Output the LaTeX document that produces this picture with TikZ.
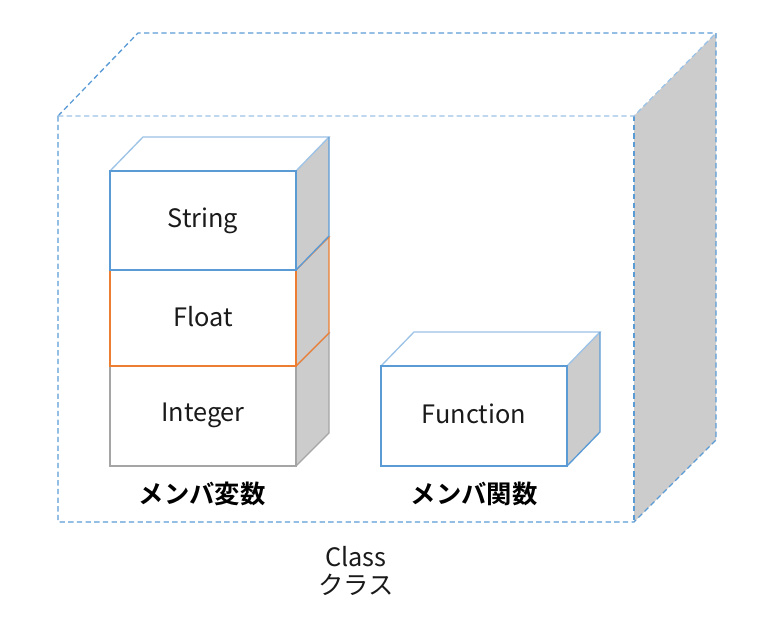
\documentclass[tikz,border=0pt]{standalone}
\usepackage{fontspec}
\setmainfont{Noto Sans CJK JP}
\newfontfamily\jpb{Noto Sans CJK JP Bold}
\definecolor{cblue}{HTML}{5B9BD5}
\definecolor{clblue}{HTML}{9DC3E6}
\definecolor{corange}{HTML}{ED7D31}
\definecolor{cgray}{HTML}{A5A5A5}
\definecolor{cside}{HTML}{CCCCCC}
\definecolor{ctext}{HTML}{1A1A1A}
\tikzset{
  edge/.style={line width=1pt, line join=miter},
  lbl/.style={font=\fontsize{19}{22}\selectfont, text=ctext, inner sep=0pt},
  blbl/.style={font=\jpb\fontsize{19}{22}\selectfont, text=black, inner sep=0pt},
}
% cube: #1 = x0, #2 = y0 (front top-left), #3 = x1, #4 = y1 (front bottom-right), #5 = dx, #6 = dy, #7 = color, #8 = top color
\newcommand{\mycube}[8]{%
  \fill[white] (#1,#2) -- (#1+#5,#2-#6) -- (#3+#5,#2-#6) -- (#3,#2) -- cycle;
  \fill[cside] (#3,#2) -- (#3+#5,#2-#6) -- (#3+#5,#4-#6) -- (#3,#4) -- cycle;
  \fill[white] (#1,#2) rectangle (#3,#4);
  \draw[edge,#8] (#1,#2) -- (#1+#5,#2-#6) -- (#3+#5,#2-#6) -- (#3,#2);
  \draw[edge,#7] (#3+#5,#2-#6) -- (#3+#5,#4-#6) -- (#3,#4);
  \draw[edge,#7] (#1,#2) rectangle (#3,#4);
}
\begin{document}
\begin{tikzpicture}[x=0.75pt,y=-0.75pt]
\useasboundingbox (0,0) rectangle (772,624);
% big class box
\fill[cside] (634,116) -- (716,33) -- (716,440) -- (634,522) -- cycle;
\draw[edge,cblue,dashed,dash pattern=on 4pt off 2.5pt] (58,116) -- (138,33) -- (716,33) -- (716,440) -- (634,522) -- (58,522) -- cycle;
\draw[edge,cblue,dashed,dash pattern=on 4pt off 2.5pt] (634,116) -- (634,522);
\draw[edge,clblue,dashed,dash pattern=on 4pt off 2.5pt] (58,116) -- (634,116) -- (716,33);
% stack
\mycube{110}{366}{296}{466}{33}{33}{cgray}{cgray}
\mycube{110}{270}{296}{366}{33}{33}{corange}{corange}
\mycube{110}{171}{296}{270}{33}{34}{cblue}{clblue}
\mycube{381}{366}{567}{466}{33}{34}{cblue}{clblue}
\node[lbl] (str) at (203,221) {String};
\node[lbl] (flt) at (203,317) {Float};
\node[lbl] (int) at (203,415) {Integer};
\node[lbl] (fun) at (474,414) {Function};
\node[blbl] (mv) at (202,494) {メンバ変数};
\node[blbl] (mf) at (474,494) {メンバ関数};
\node[lbl] (cls) at (356,557) {Class};
\node[lbl] (clsj) at (356,585) {クラス};
\end{tikzpicture}
\end{document}
